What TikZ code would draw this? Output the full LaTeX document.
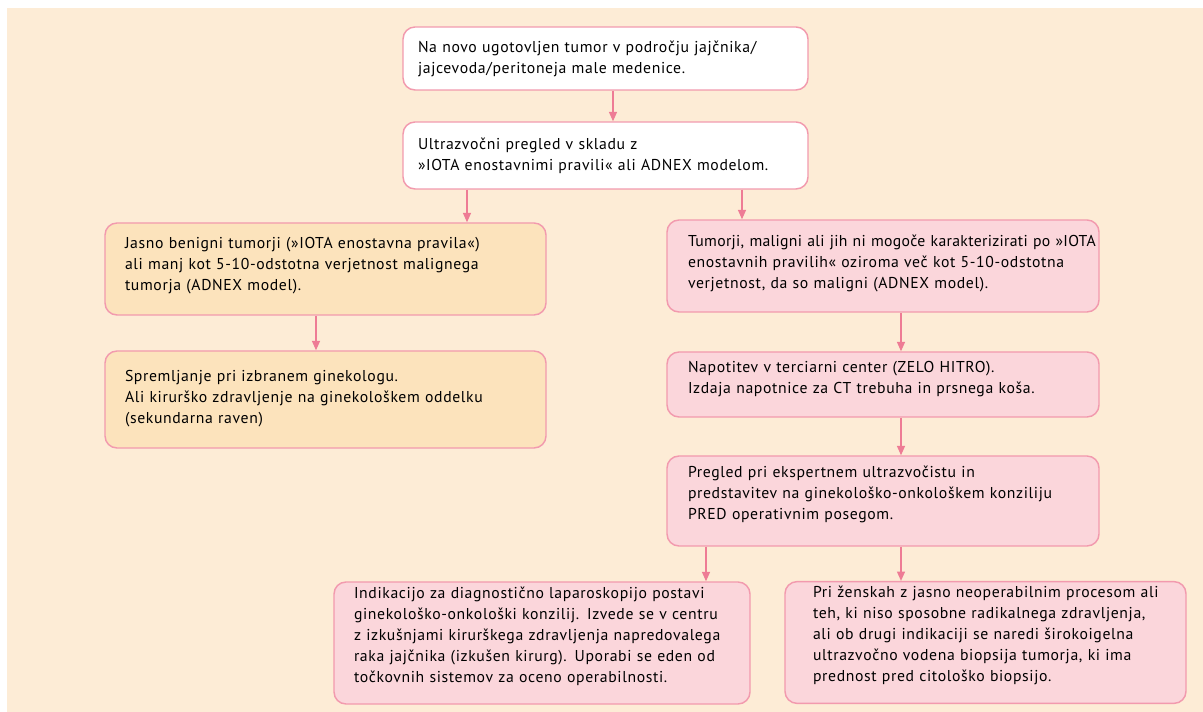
\documentclass[tikz,border=0pt]{standalone}
\usepackage{fontspec}
\setmainfont[LetterSpace=4]{PT Sans}
\usetikzlibrary{arrows.meta}

\definecolor{bgcream}{RGB}{253,236,214}
\definecolor{boxline}{RGB}{242,154,174}
\definecolor{arrline}{RGB}{238,124,149}
\definecolor{benfill}{RGB}{252,227,188}
\definecolor{malfill}{RGB}{251,214,219}

\tikzset{
	stepnode/.style={draw=boxline, line width=1.1pt, rounded corners=9pt, align=left, inner xsep=4pt, font=\fontsize{11.8}{15.75}\selectfont},
	inset/.style={execute at begin node={\leftskip=#1}},
	lift/.style={execute at end node={\par\vspace{#1}\hrule height 0pt width 0pt}},
	startnode/.style={stepnode, fill=white, text width=295.75pt, inset=7.25pt},
	bennode/.style={stepnode, fill=benfill, text width=322.75pt, inset=11pt},
	malnode/.style={stepnode, fill=malfill, text width=316pt, inset=11.75pt},
	arr/.style={draw=arrline, line width=0.9pt, -{Triangle[length=7pt,width=6pt]}}
}

\begin{document}
\begin{tikzpicture}[x=0.75pt,y=-0.75pt]
	
	\useasboundingbox (0,0) rectangle (1203,712);
	\fill [bgcream] (7,8) rectangle (1203,712);
	
	\node [startnode, minimum height=47.25pt] (new) at (605.5,58.5) {Na novo ugotovljen tumor v področju jajčnika/\\jajcevoda/peritoneja male medenice.};
	\node [startnode, minimum height=50.25pt] (usg) at (605.5,155.5) {Ultrazvočni pregled v skladu z\\»IOTA enostavnimi pravili« ali ADNEX modelom.};
	
	\node [bennode, lift=4.5pt, minimum height=69pt] (benign) at (325.5,269) {Jasno benigni tumorji (»IOTA enostavna pravila«)\\ali manj kot 5-10-odstotna verjetnost malignega\\tumorja (ADNEX model).};
	\node [bennode, lift=1.5pt, minimum height=72.75pt] (followup) at (325.5,399.5) {Spremljanje pri izbranem ginekologu.\\Ali kirurško zdravljenje na ginekološkem oddelku\\(sekundarna raven)};
	
	\node [malnode, lift=4.5pt, minimum height=69pt] (malign) at (883,266) {\mbox{\addfontfeatures{LetterSpace=2}Tumorji, maligni ali jih ni mogoče karakterizirati po »IOTA}\\enostavnih pravilih« oziroma več kot 5-10-odstotna\\verjetnost, da so maligni (ADNEX model).};
	\node [malnode, lift=7.5pt, minimum height=48.75pt] (tertiary) at (883,384.5) {Napotitev v terciarni center (ZELO HITRO).\\Izdaja napotnice za CT trebuha in prsnega koša.};
	\node [malnode, lift=10.5pt, minimum height=67.5pt] (expert) at (883,501) {Pregled pri ekspertnem ultrazvočistu in\\predstavitev na ginekološko-onkološkem konziliju\\PRED operativnim posegom.};
	
	\node [malnode, lift=10.5pt, text width=304pt, inset=11pt, minimum height=91.5pt] (lapsc) at (542,643) {Indikacijo za diagnostično laparoskopijo postavi\\ginekološko-onkološki konzilij. Izvede se v centru\\z izkušnjami kirurškega zdravljenja napredovalega\\raka jajčnika (izkušen kirurg). Uporabi se eden od\\točkovnih sistemov za oceno operabilnosti.};
	\node [malnode, lift=10.5pt, text width=292.75pt, inset=17pt, minimum height=90.75pt] (biopsy) at (985.5,642.5) {Pri ženskah z jasno neoperabilnim procesom ali\\teh, ki niso sposobne radikalnega zdravljenja,\\ali ob drugi indikaciji se naredi širokoigelna\\ultrazvočno vodena biopsija tumorja, ki ima\\prednost pred citološko biopsijo.};
	
	% vertical connectors
	\coordinate (c0) at ([xshift=5.625pt]new.south);
	\coordinate (cl) at ([xshift=-103.875pt]usg.south);
	\coordinate (cr) at ([xshift=102.375pt]usg.south);
	\coordinate (cb) at ([xshift=-7.125pt]benign.south);
	\coordinate (cm) at ([xshift=13.5pt]malign.south);
	\coordinate (ct) at ([xshift=13.5pt]tertiary.south);
	\coordinate (el) at ([xshift=-132.75pt]expert.south);
	\coordinate (er) at ([xshift=13.5pt]expert.south);
	
	\draw [arr] (c0) -- (c0 |- usg.north);
	\draw [arr] (cl) -- (cl |- benign.north);
	\draw [arr] (cr) -- (cr |- malign.north);
	\draw [arr] (cb) -- (cb |- followup.north);
	\draw [arr] (cm) -- (cm |- tertiary.north);
	\draw [arr] (ct) -- (ct |- expert.north);
	\draw [arr] (el) -- (el |- lapsc.north);
	\draw [arr] (er) -- (er |- biopsy.north);
	
\end{tikzpicture}
\end{document}
